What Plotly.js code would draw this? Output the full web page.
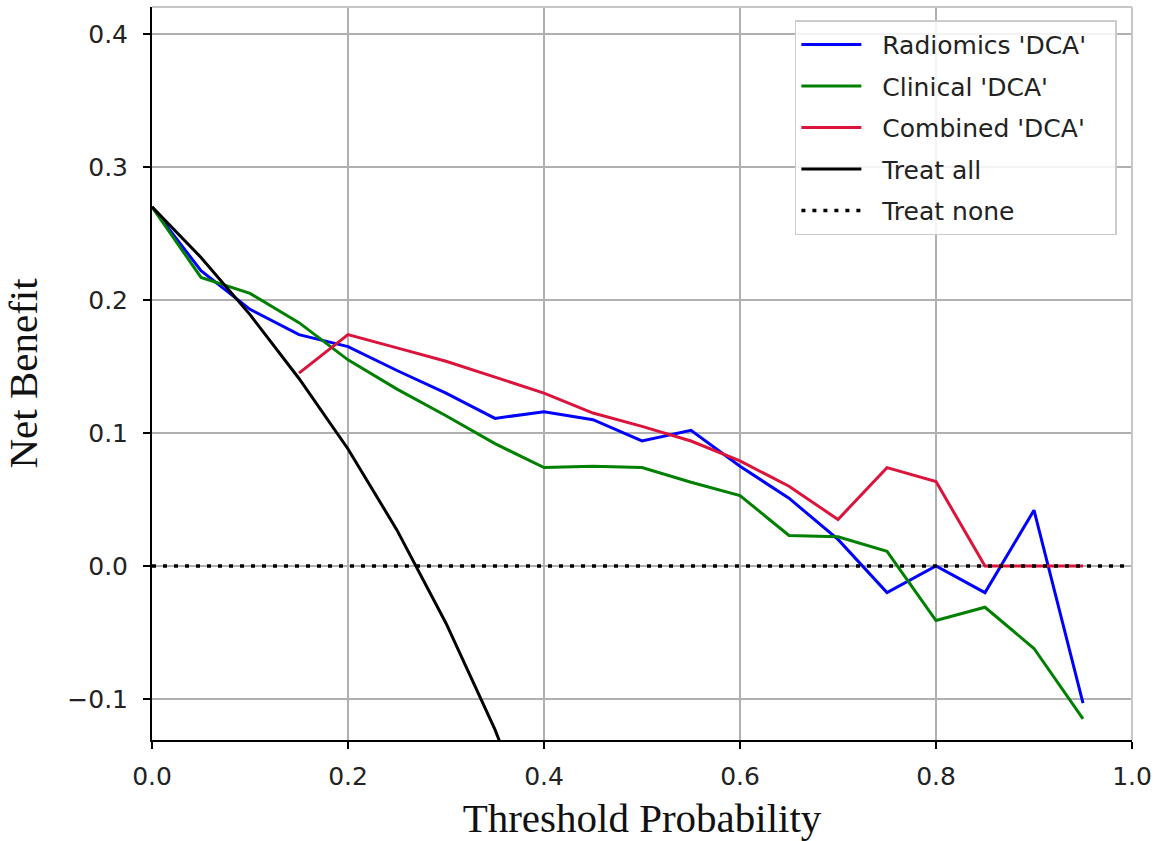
<!DOCTYPE html>
<html>
<head>
<meta charset="utf-8">
<script src="https://cdn.plot.ly/plotly-3.0.1.min.js"></script>
<style>html,body{margin:0;padding:0;background:#fff;}#chart{width:1159px;height:841px;}</style>
</head>
<body>
<div id="chart"></div>
<script>
const thresholds = [0.00,0.05,0.10,0.15,0.20,0.25,0.30,0.35,0.40,0.45,0.50,0.55,0.60,0.65,0.70,0.75,0.80,0.85,0.90,0.95];
const radiomics = [0.270,0.222,0.193,0.174,0.165,0.147,0.130,0.111,0.116,0.110,0.094,0.102,0.075,0.051,0.020,-0.020,0.000,-0.020,0.042,-0.103];
const clinical  = [0.270,0.217,0.205,0.183,0.155,0.133,0.113,0.092,0.074,0.075,0.074,0.063,0.053,0.023,0.022,0.011,-0.041,-0.031,-0.062,-0.115];
const combinedX = [0.15,0.20,0.25,0.30,0.35,0.40,0.45,0.50,0.55,0.60,0.65,0.70,0.75,0.80,0.85,0.90,0.95];
const combined  = [0.145,0.174,0.164,0.154,0.142,0.130,0.115,0.105,0.094,0.079,0.060,0.035,0.074,0.0635,0.000,0.000,0.000];
const treatAllX = [0.00,0.05,0.10,0.15,0.20,0.25,0.30,0.35,0.40];
const treatAll  = [0.270,0.232,0.189,0.141,0.088,0.027,-0.043,-0.123,-0.217];
const treatNoneX = [0.0,1.0];
const treatNone  = [0.0,0.0];
const xTicks = [0.0,0.2,0.4,0.6,0.8,1.0];
const yTicks = [-0.1,0.0,0.1,0.2,0.3,0.4];
const seriesNames = ["Radiomics 'DCA'", "Clinical 'DCA'", "Combined 'DCA'", "Treat all", "Treat none"];

const pad = s => '\u00a0\u00a0' + s;
const traces = [
  {x: thresholds, y: radiomics, name: pad(seriesNames[0]) + '\u00a0\u00a0\u00a0', mode: 'lines', line: {color: '#0000ff', width: 3}, legendgroup: 'a'},
  {x: thresholds, y: clinical, name: pad(seriesNames[1]), mode: 'lines', line: {color: '#008000', width: 3}, legendgroup: 'b'},
  {x: combinedX, y: combined, name: pad(seriesNames[2]), mode: 'lines', line: {color: '#dc143c', width: 3}, legendgroup: 'c'},
  {x: treatAllX, y: treatAll, name: pad(seriesNames[3]), mode: 'lines', line: {color: '#000000', width: 3}, legendgroup: 'd'},
  {x: treatNoneX, y: treatNone, name: pad(seriesNames[4]), mode: 'lines', line: {color: '#000000', width: 3.5, dash: '4px,7px'}, legendgroup: 'e'}
];

const tickFont = {family: 'DejaVu Sans', size: 25, color: '#222'};
const layout = {
  width: 1159, height: 841,
  margin: {l: 152, r: 27, t: 7, b: 101},
  paper_bgcolor: '#fff', plot_bgcolor: '#fff',
  showlegend: true,
  legend: {
    x: 0.656, y: 0.982, xanchor: 'left', yanchor: 'top',
    font: {family: 'DejaVu Sans', size: 25, color: '#222'},
    bgcolor: 'rgba(255,255,255,0.85)', bordercolor: '#cccccc', borderwidth: 1.5,
    itemwidth: 60, tracegroupgap: 6, traceorder: 'grouped'
  },
  xaxis: {
    range: [0, 1], tickvals: xTicks, ticktext: xTicks.map(v => v.toFixed(1)),
    showgrid: true, gridcolor: '#b0b0b0', gridwidth: 1.5,
    zeroline: false, showline: true, linecolor: '#000', linewidth: 2,
    ticks: 'outside', ticklen: 7, tickwidth: 2, tickcolor: '#000',
    tickfont: tickFont, ticklabelstandoff: 6,
    title: {text: 'Threshold Probability', font: {family: 'Liberation Serif', size: 41, color: '#111'}, standoff: 14},
    automargin: false
  },
  yaxis: {
    range: [-0.1308, 0.4203], tickvals: yTicks,
    ticktext: yTicks.map(v => (v < 0 ? '\u2212' + Math.abs(v).toFixed(1) : v.toFixed(1))),
    showgrid: true, gridcolor: '#b0b0b0', gridwidth: 1.5,
    zeroline: false, showline: true, linecolor: '#000', linewidth: 2,
    ticks: 'outside', ticklen: 7, tickwidth: 2, tickcolor: '#000',
    tickfont: tickFont, ticklabelstandoff: 10,
    title: {text: 'Net Benefit', font: {family: 'Liberation Serif', size: 41, color: '#111'}, standoff: 18},
    automargin: false
  },
  shapes: [
    {type: 'line', xref: 'paper', yref: 'paper', x0: 0, x1: 1, y0: 1, y1: 1, line: {color: '#c8c8c8', width: 2}},
    {type: 'line', xref: 'paper', yref: 'paper', x0: 1, x1: 1, y0: 0, y1: 1, line: {color: '#c8c8c8', width: 2}}
  ]
};

Plotly.newPlot('chart', traces, layout, {displayModeBar: false, staticPlot: true});
</script>
</body>
</html>
